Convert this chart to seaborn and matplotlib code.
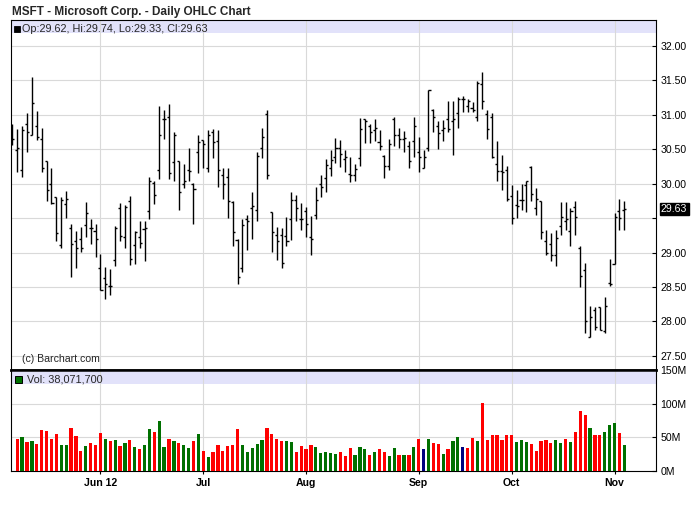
import numpy as np
import pandas as pd
import matplotlib
matplotlib.use("Agg")
import matplotlib.pyplot as plt
from matplotlib.patches import Rectangle
import matplotlib.transforms as mtransforms
import seaborn as sns

# ---------------- data ----------------
chart_title = "MSFT - Microsoft Corp. - Daily OHLC Chart"
start_date, end_date = "2012-05-07", "2012-11-05"
market_holidays = ["2012-05-28", "2012-07-04", "2012-09-03", "2012-10-29", "2012-10-30"]

opens = [30.70, 30.49, 30.20, 30.86, 30.70, 30.83, 30.64, 30.33, 30.00, 29.80,
         29.11, 29.70, 29.35, 29.16, 29.20, 29.40, 29.35, 29.31, 28.77, 28.63,
         28.52, 28.89, 29.65, 29.23, 29.74, 29.11, 29.22, 29.34, 29.60, 30.01,
         30.20, 30.93, 30.96, 30.31, 30.32, 30.00, 30.20, 30.00, 30.45, 30.63,
         30.23, 30.74, 30.62, 30.12, 30.09, 29.73, 29.18, 28.77, 29.48, 29.65,
         29.62, 30.51, 31.01, 29.59, 29.25, 29.25, 29.24, 29.48, 29.76, 29.48,
         29.60, 29.22, 29.54, 30.00, 30.08, 30.22, 30.39, 30.51, 30.36, 30.14,
         30.12, 30.37, 30.93, 30.83, 30.77, 30.60, 30.40, 30.25, 30.93, 30.70,
         30.65, 30.54, 30.62, 30.46, 30.22, 30.51, 31.06, 30.84, 30.77, 30.94,
         30.91, 31.02, 31.22, 31.12, 31.10, 30.96, 31.44, 31.01, 30.96, 30.29,
         30.18, 30.20, 29.82, 29.69, 29.76, 29.98, 30.24, 29.65, 29.75, 29.17,
         29.12, 28.97, 29.38, 29.45, 29.31, 29.66, 29.07, 28.74, 27.77, 28.16,
         28.21, 27.86, 28.56, 28.84, 29.60, 29.62]
highs = [30.86, 30.79, 30.83, 31.02, 31.54, 31.05, 30.80, 30.33, 30.22, 29.81,
         29.80, 29.89, 29.41, 29.31, 29.37, 29.73, 29.49, 29.42, 28.98, 28.79,
         28.76, 29.38, 29.72, 29.69, 29.82, 29.31, 29.46, 29.46, 30.09, 30.03,
         31.12, 31.07, 31.15, 30.75, 30.33, 30.29, 30.51, 30.01, 30.70, 30.63,
         30.78, 30.79, 30.77, 30.23, 30.22, 29.75, 29.20, 29.49, 29.54, 29.88,
         30.46, 30.80, 31.07, 29.59, 29.37, 29.35, 29.51, 29.87, 29.83, 29.72,
         29.66, 29.53, 29.95, 30.12, 30.35, 30.49, 30.66, 30.63, 30.48, 30.39,
         30.29, 30.95, 30.93, 30.86, 30.94, 30.78, 30.41, 30.65, 30.96, 30.80,
         30.76, 30.62, 30.97, 30.67, 30.48, 31.36, 31.08, 30.91, 30.92, 31.20,
         31.20, 31.25, 31.27, 31.22, 31.18, 31.49, 31.61, 31.07, 31.02, 30.62,
         30.41, 30.26, 29.98, 29.90, 30.00, 30.04, 30.25, 29.93, 29.75, 29.33,
         29.28, 29.33, 29.73, 29.73, 29.65, 29.75, 29.09, 28.85, 28.22, 28.21,
         28.21, 28.36, 28.90, 29.57, 29.77, 29.74]
lows = [30.56, 30.17, 30.10, 30.45, 30.70, 30.63, 30.16, 29.74, 29.71, 29.17,
        29.06, 29.50, 28.65, 28.77, 29.01, 29.22, 29.13, 28.94, 28.45, 28.32,
        28.39, 28.81, 29.17, 29.06, 28.82, 28.84, 29.06, 28.88, 29.49, 29.70,
        30.06, 30.64, 30.06, 30.03, 29.62, 29.94, 30.03, 29.42, 30.15, 30.22,
        30.17, 30.37, 29.95, 29.78, 29.50, 29.10, 28.55, 28.72, 29.04, 29.20,
        29.46, 30.37, 30.06, 29.01, 28.89, 28.78, 29.10, 29.18, 29.46, 29.33,
        29.22, 28.97, 29.48, 29.81, 29.87, 30.11, 30.30, 30.24, 30.16, 30.02,
        30.03, 30.26, 30.59, 30.58, 30.61, 30.48, 30.08, 30.19, 30.54, 30.52,
        30.45, 30.22, 30.39, 30.16, 30.22, 30.47, 30.74, 30.50, 30.61, 30.74,
        30.41, 30.81, 31.04, 31.04, 31.04, 30.91, 31.08, 30.64, 30.37, 30.04,
        29.90, 29.74, 29.42, 29.50, 29.61, 29.58, 29.74, 29.55, 29.19, 28.97,
        28.87, 28.81, 29.26, 29.32, 29.10, 29.26, 28.50, 27.84, 27.77, 27.87,
        27.87, 27.84, 28.51, 28.83, 29.33, 29.33]
closes = [30.65, 30.51, 30.77, 30.75, 31.16, 30.68, 30.22, 29.90, 29.72, 29.28,
          29.76, 29.77, 29.12, 29.07, 29.06, 29.57, 29.35, 29.19, 28.45, 28.55,
          28.52, 29.36, 29.24, 29.66, 28.90, 29.30, 29.14, 29.35, 30.03, 29.84,
          30.70, 30.93, 30.15, 30.70, 29.87, 30.03, 30.18, 29.92, 30.60, 30.57,
          30.70, 30.60, 30.19, 30.00, 29.74, 29.30, 28.65, 29.40, 29.45, 29.67,
          30.40, 30.67, 30.12, 29.29, 29.16, 28.85, 29.16, 29.76, 29.65, 29.48,
          29.42, 29.19, 29.76, 29.95, 30.27, 30.34, 30.51, 30.43, 30.39, 30.12,
          30.21, 30.79, 30.91, 30.75, 30.80, 30.54, 30.25, 30.57, 30.70, 30.65,
          30.66, 30.33, 30.84, 30.39, 30.39, 31.35, 30.96, 30.73, 30.80, 30.79,
          30.93, 31.22, 31.22, 31.19, 31.06, 31.45, 31.19, 30.79, 30.39, 30.18,
          30.17, 29.77, 29.50, 29.68, 29.76, 30.03, 29.85, 29.78, 29.29, 28.99,
          28.96, 29.21, 29.51, 29.49, 29.60, 29.51, 28.66, 28.00, 28.07, 27.92,
          27.88, 28.22, 28.55, 29.52, 29.50, 29.63]
volumes_m = [None, 48, 51, 43.5, 45, 40.5, 61.5, 60, 48, 55.5, 39,
             39, 64.5, 52.5, 30, 37.5, 42, 39, 57, 48, 45,
             46.5, 37.5, 42, 46.5, 36, 33, 39, 63, 58.5, 75,
             36, 48, 45, 42, 39, 34.5, 45, 55.5, 30, 21,
             28.5, 39, 30, 37.5, 39, 63, 39, 28.5, 34.5, 40.5,
             46.5, 64.5, 55.5, 48, 45, 45, 43.5, 28.5, 37.5, 33,
             39, 36, 27, 28.5, 27, 25.5, 28.5, 22.5, 34.5, 24,
             36, 33, 24, 28.5, 33, 28.5, 22.5, 34.5, 24, 24,
             24, 36, 48, 33, 48, 42, 40.5, 25.5, 33, 45,
             51, 36, 34.5, 49.5, 45, 102, 46.5, 54, 54, 46.5,
             54, 54, 43.5, 46.5, 43.5, 40.5, 30, 45, 46.5, 42,
             46.5, 42, 48, 43.5, 58.5, 90, 84, 64.5, 54, 54,
             58.5, 69, 72, 57, 38.0717]

price_ticks = [27.5, 28.0, 28.5, 29.0, 29.5, 30.0, 30.5, 31.0, 31.5, 32.0]
volume_ticks_m = [0, 50, 100, 150]

# ---------------- style ----------------
sns.set_theme(style="white")
plt.rcParams['font.family'] = ['Liberation Sans', 'DejaVu Sans']

UP, DOWN, FLAT = "#007000", "#ff0000", "#000080"
GRID = "#d9d9d9"
BAND = "#e2e2fa"

dates = pd.bdate_range(start_date, end_date, freq="C", holidays=market_holidays)
idx = np.arange(len(dates))
df = pd.DataFrame({"idx": idx, "open": opens, "high": highs, "low": lows,
                   "close": closes, "vol": volumes_m})
prev = df["close"].shift(1)
df["dir"] = np.where(df["close"] > prev, "up", np.where(df["close"] < prev, "down", "flat"))

# month ticks: first trading day of each month (from June)
month_first = pd.Series(idx, index=dates).groupby([dates.year, dates.month]).first()
tick_pos = list(month_first.values[1:])
tick_lab = []
for k, (y, m) in enumerate(month_first.index[1:]):
    d = pd.Timestamp(year=y, month=m, day=1)
    tick_lab.append(d.strftime("%b %y") if k == 0 else d.strftime("%b"))

W, H = 700, 512
def rect(l, t, r, b):
    return [l / W, 1 - b / H, (r - l) / W, (b - t) / H]

fig = plt.figure(figsize=(W / 100, H / 100), dpi=100)
fig.patch.set_facecolor("white")
axp = fig.add_axes(rect(11, 20, 656, 370))
axv = fig.add_axes(rect(11, 370, 656, 471))

x_lo, x_hi = -0.27, 131.47

# ---------------- price panel ----------------
axp.set_axisbelow(True)
axp.add_patch(Rectangle((0, 1 - 13 / 350), 1, 13 / 350, transform=axp.transAxes,
                        facecolor=BAND, edgecolor="none", zorder=0.3))
axp.vlines(df["idx"], df["low"], df["high"], color="black", lw=1.0, zorder=3)
axp.hlines(df["open"], df["idx"] - 0.42, df["idx"], color="black", lw=1.0, zorder=3)
axp.hlines(df["close"], df["idx"], df["idx"] + 0.42, color="black", lw=1.0, zorder=3)
axp.set_xlim(x_lo, x_hi)
axp.set_ylim(27.297, 32.37)
axp.set_xticks(tick_pos)
axp.set_yticks(price_ticks)
axp.set_yticklabels(["" if abs(t - 29.5) < 1e-9 else f"{t:.2f}" for t in price_ticks])
axp.grid(True, color=GRID, lw=0.8)
axp.yaxis.tick_right()
axp.tick_params(axis="y", direction="in", length=3, width=0.8, pad=3,
                labelsize=7.6, colors="black", right=True, left=False)
axp.tick_params(axis="x", length=0, labelbottom=False)
for s in axp.spines.values():
    s.set_color("black"); s.set_linewidth(0.8)
axp.spines["bottom"].set_linewidth(1.8)

last = df.iloc[-1]
axp.text(1 + 5 / 645, last["close"], f"{last['close']:.2f}",
         transform=mtransforms.blended_transform_factory(axp.transAxes, axp.transData),
         color="white", fontsize=7.6, va="center", ha="left",
         bbox=dict(boxstyle="square,pad=0.12", facecolor="black", edgecolor="black"),
         clip_on=False, zorder=5)

# ---------------- volume panel ----------------
vdf = df.dropna(subset=["vol"])
sns.barplot(data=vdf, x="idx", y="vol", hue="dir", native_scale=True,
            palette={"up": UP, "down": DOWN, "flat": FLAT}, width=0.66,
            dodge=False, saturation=1, errorbar=None, legend=False, ax=axv,
            linewidth=0, zorder=3)
axv.set_axisbelow(True)
axv.add_patch(Rectangle((0, 1 - 13.5 / 101), 1, 13.5 / 101, transform=axv.transAxes,
                        facecolor=BAND, edgecolor="none", zorder=0.3))
axv.set_xlim(x_lo, x_hi)
axv.set_ylim(0, 150.7)
axv.set_xticks(tick_pos)
axv.set_xticklabels(tick_lab, fontweight="bold", fontsize=7.6)
axv.set_yticks(volume_ticks_m)
axv.set_yticklabels([f"{t}M" for t in volume_ticks_m])
axv.set_xlabel(""); axv.set_ylabel("")
axv.grid(True, color=GRID, lw=0.8)
axv.yaxis.tick_right()
axv.tick_params(axis="y", direction="in", length=3, width=0.8, pad=3,
                labelsize=7.6, colors="black", right=True, left=False)
axv.tick_params(axis="x", direction="out", length=2.5, width=0.8, pad=2.5,
                colors="black", bottom=True)
for s in axv.spines.values():
    s.set_color("black"); s.set_linewidth(0.8)
axv.spines["top"].set_linewidth(1.8)

# ---------------- texts ----------------
fig.text(12 / W, 1 - 11.5 / H, chart_title, fontsize=8.5, fontweight="bold",
         va="center", ha="left")
fig.add_artist(Rectangle((13.5 / W, 1 - 32 / H), 6 / W, 6 / H, transform=fig.transFigure,
                         facecolor="black", edgecolor="black", lw=0.6))
fig.text(21.5 / W, 1 - 31.8 / H,
         f"Op:{last['open']:.2f}, Hi:{last['high']:.2f}, Lo:{last['low']:.2f}, Cl:{last['close']:.2f}",
         fontsize=7.8, va="baseline", ha="left")
fig.add_artist(Rectangle((15.5 / W, 1 - 382.5 / H), 6.5 / W, 6.5 / H, transform=fig.transFigure,
                         facecolor=UP, edgecolor="black", lw=0.7))
fig.text(26.5 / W, 1 - 382.5 / H, f"Vol: {round(last['vol'] * 1e6):,}",
         fontsize=7.8, va="baseline", ha="left")
fig.text(22 / W, 1 - 361.5 / H, "(c) Barchart.com", fontsize=7.6, va="baseline", ha="left")

fig.savefig("out.png", dpi=100, facecolor="white")
